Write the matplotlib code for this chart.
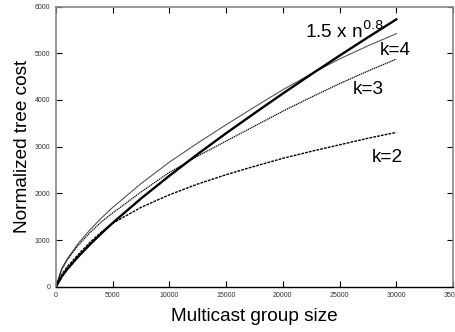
import matplotlib
matplotlib.use("Agg")
import matplotlib.pyplot as plt

plt.rcParams['font.family'] = ['Liberation Sans', 'DejaVu Sans']

# group sizes (x) and normalized tree cost
n = [0, 500, 1000, 2000, 3000, 4000, 5000, 7500, 10000, 12500,
     15000, 17500, 20000, 22500, 25000, 27500, 30000]
power_fit = [0, 217, 377, 656, 906, 1142, 1367, 1890, 2377, 2842,
             3288, 3717, 4139, 4550, 4950, 5343, 5727]
k4 = [0, 383, 600, 940, 1221, 1472, 1700, 2210, 2670, 3080,
      3470, 3850, 4220, 4560, 4880, 5160, 5420]
k3 = [0, 370, 580, 900, 1160, 1390, 1580, 2030, 2450, 2800,
      3120, 3440, 3760, 4060, 4350, 4620, 4876]
k2 = [0, 260, 430, 700, 950, 1170, 1360, 1700, 1970, 2200,
      2400, 2580, 2750, 2900, 3040, 3180, 3306]

fig = plt.figure(figsize=(4.56, 3.32), dpi=100)
ax = fig.add_axes([0.1228, 0.1364, 0.8706, 0.8436])

ax.plot(n, k4, color='#555555', lw=0.8)
ax.plot(n, k3, color='black', lw=0.9, linestyle=(0, (1, 0.6)))
ax.plot(n, k2, color='black', lw=1.0, linestyle=(0, (2, 0.8)))
ax.plot(n, power_fit, color='black', lw=1.7)

ax.set_xlim(0, 35000)
ax.set_ylim(0, 6000)
ax.set_xticks(range(0, 35001, 5000))
ax.set_yticks(range(0, 6001, 1000))
ax.tick_params(direction='in', length=4, width=0.8, labelsize=5,
               labelcolor='#333333', top=True, right=True, pad=4)

for side in ['left', 'top', 'right']:
    ax.spines[side].set_color('#888888')
    ax.spines[side].set_linewidth(1.2)
ax.spines['bottom'].set_color('black')
ax.spines['bottom'].set_linewidth(1.0)

ax.set_xlabel('Multicast group size', fontsize=13.7, labelpad=6)
ax.set_ylabel('Normalized tree cost', fontsize=13.7, labelpad=3)

ax.text(21960, 5325, r'1.5 x n$^{0.8}$', fontsize=13.7)
ax.text(28570, 4962, 'k=4', fontsize=13.7)
ax.text(26190, 4120, 'k=3', fontsize=13.7)
ax.text(27870, 2677, 'k=2', fontsize=13.7)

fig.savefig('out.png', dpi=100)
